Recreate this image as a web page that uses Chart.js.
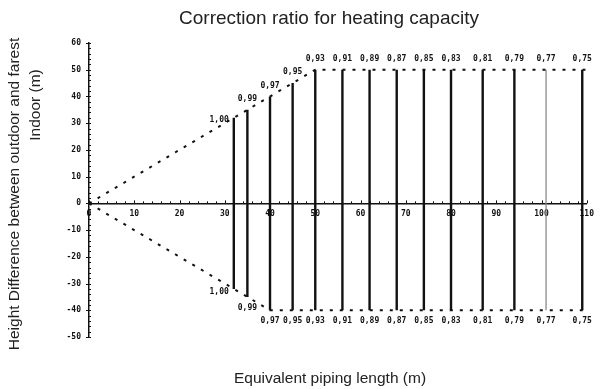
<!DOCTYPE html>
<html>
<head>
<meta charset="utf-8">
<script src="https://cdn.jsdelivr.net/npm/chart.js@4.4.0/dist/chart.umd.min.js"></script>
<style>
  html, body { margin: 0; padding: 0; background: #fff; }
  #wrap { width: 600px; height: 389px; }
</style>
</head>
<body>
<div id="wrap"><canvas id="correction-chart"></canvas></div>
<script>
// piping length of each limit bar (m) and the correction ratio printed at its ends
const pipeLengths = [32, 35, 40, 45, 50, 56, 62, 68, 74, 80, 87, 94, 101, 109];
const ratioLabels = ["1,00", "0,99", "0,97", "0,95", "0,93", "0,91", "0,89", "0,87", "0,85", "0,83", "0,81", "0,79", "0,77", "0,75"];
// height limits reached by each bar (m)
const barTops = [32, 35, 40, 45, 50, 50, 50, 50, 50, 50, 50, 50, 50, 50];
const barBottoms = [-32, -35, -40, -40, -40, -40, -40, -40, -40, -40, -40, -40, -40, -40];

// dashed limit lines (outdoor above / below indoor)
const upperLimitX = [0, 50, 110];
const upperLimitY = [0, 50, 50];
const lowerLimitX = [0, 40, 110];
const lowerLimitY = [0, -40, -40];

const smallFont = "bold 8px 'DejaVu Sans Mono'";
const ink = "#111";

const limitLine = (xs, ys) => ({
  type: "line",
  data: xs.map((x, i) => ({ x: x, y: ys[i] })),
  borderColor: ink,
  borderWidth: 2,
  borderDash: [3, 7],
  pointRadius: 0,
  fill: false,
});

const barLines = pipeLengths.map((x, i) => ({
  type: "line",
  data: [
    { x: x, y: barBottoms[i] },
    { x: x, y: barTops[i] },
  ],
  borderColor: i === 12 ? "#8a8a8a" : ink,
  borderWidth: i === 12 ? 1.3 : 2.4,
  pointRadius: 0,
  fill: false,
}));

const ratioText = {
  id: "ratioText",
  afterDatasetsDraw(chart) {
    const { ctx, scales } = chart;
    const xs = scales.x;
    const ys = scales.y;
    ctx.save();

    // minor ticks along both axes
    ctx.strokeStyle = ink;
    ctx.lineWidth = 1;
    const y0 = ys.getPixelForValue(0);
    const xLeft = xs.getPixelForValue(0);
    for (let v = 0; v <= 110; v += 2) {
      const px = Math.round(xs.getPixelForValue(v)) + 0.5;
      ctx.beginPath();
      ctx.moveTo(px, y0 - (v % 10 === 0 ? 3 : 2));
      ctx.lineTo(px, y0);
      ctx.stroke();
    }
    for (let v = -50; v <= 60; v += 2) {
      const py = Math.round(ys.getPixelForValue(v)) + 0.5;
      ctx.beginPath();
      ctx.moveTo(xLeft - (v % 10 === 0 ? 3 : 0), py);
      ctx.lineTo(xLeft + 2, py);
      ctx.stroke();
    }

    // ratio labels at the top and bottom of every bar
    ctx.font = smallFont;
    ctx.fillStyle = ink;
    ctx.textBaseline = "middle";
    pipeLengths.forEach((len, i) => {
      const px = xs.getPixelForValue(len);
      const top = ys.getPixelForValue(barTops[i]);
      const bottom = ys.getPixelForValue(barBottoms[i]);
      if (i === 0) {
        ctx.textAlign = "right";
        ctx.fillText(ratioLabels[i], px - 5, top + 2);
        ctx.fillText(ratioLabels[i], px - 5, bottom + 3);
      } else {
        ctx.textAlign = "center";
        ctx.fillText(ratioLabels[i], px, top - 11);
        ctx.fillText(ratioLabels[i], px, bottom + 11);
      }
    });

    // titles
    ctx.fillStyle = "#222";
    ctx.textAlign = "center";
    ctx.font = "19px 'Liberation Sans'";
    ctx.fillText("Correction ratio for heating capacity", 329, 19);
    ctx.font = "15.5px 'Liberation Sans'";
    ctx.fillText("Equivalent piping length (m)", 330, 379);

    ctx.rotate(-Math.PI / 2);
    ctx.fillText("Height Difference between outdoor and farest", -194, 15);
    ctx.fillText("Indoor (m)", -105, 36);
    ctx.restore();
  },
};

new Chart(document.getElementById("correction-chart"), {
  type: "line",
  data: {
    datasets: [limitLine(upperLimitX, upperLimitY), limitLine(lowerLimitX, lowerLimitY), ...barLines],
  },
  options: {
    responsive: true,
    maintainAspectRatio: false,
    animation: false,
    layout: {
      padding: { top: 43, bottom: 52, left: 0, right: 10 },
    },
    plugins: {
      legend: { display: false },
      tooltip: { enabled: false },
    },
    scales: {
      x: {
        type: "linear",
        min: 0,
        max: 110,
        position: { y: 0 },
        grid: { display: false, drawTicks: false },
        border: { display: true, color: ink, width: 1.5 },
        ticks: {
          stepSize: 10,
          maxRotation: 0,
          padding: 6,
          color: ink,
          font: { family: "DejaVu Sans Mono", size: 8, weight: "bold" },
        },
      },
      y: {
        type: "linear",
        min: -50,
        max: 60,
        grid: { display: false, drawTicks: false },
        border: { display: true, color: ink, width: 1.5 },
        afterFit(scale) {
          scale.width = 89;
        },
        ticks: {
          stepSize: 10,
          padding: 8,
          color: ink,
          font: { family: "DejaVu Sans Mono", size: 8, weight: "bold" },
        },
      },
    },
  },
  plugins: [ratioText],
});
</script>
</body>
</html>
